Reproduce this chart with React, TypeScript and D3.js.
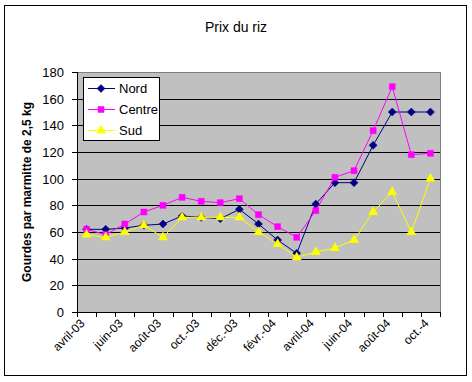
import React from "react";
import * as d3 from "d3";

const months = [
  "avril-03", "mai-03", "juin-03", "juil.-03", "août-03", "sept.-03", "oct.-03", "nov.-03",
  "déc.-03", "janv.-04", "févr.-04", "mars-04", "avril-04", "mai-04", "juin-04", "juil.-04",
  "août-04", "sept.-04", "oct.-4",
];
const nord = [62, 62, 63, 65, 66, 72, 71, 70, 77, 66, 54, 44, 81, 97, 97, 125, 150, 150, 150];
const centre = [62, 58, 66, 75, 80, 86, 83, 82, 85, 73, 64, 56, 76, 101, 106, 136, 169, 118, 119];
const sud = [58, 56, 60, 65, 56, 71, 71, 71, 71, 60, 51, 41, 45, 48, 54, 75, 90, 60, 100];
const yTicks = [0, 20, 40, 60, 80, 100, 120, 140, 160, 180];
const seriesNames = ["Nord", "Centre", "Sud"];
const seriesColors = ["#000080", "#FF00FF", "#FFFF00"];

const diamondType = {
  draw(ctx: any, size: number) {
    const r = Math.sqrt(size / 2);
    ctx.moveTo(0, -r);
    ctx.lineTo(r, 0);
    ctx.lineTo(0, r);
    ctx.lineTo(-r, 0);
    ctx.closePath();
  },
};
const seriesShapes: any[] = [diamondType, d3.symbolSquare, d3.symbolTriangle];
const seriesSizes = [32, 36, 36];

export default function App() {
  const W = 472, H = 382;
  const L = 77, R = 440, T = 72, B = 312;
  const band = d3.scaleBand<string>().domain(months).range([L, R]).padding(0);
  const xc = (i: number) => (band(months[i]) as number) + band.bandwidth() / 2;
  const y = d3.scaleLinear().domain([0, 180]).range([B, T]);
  const line = d3.line<number>().x((_, i) => xc(i)).y((v) => y(v));
  const data = [nord, centre, sud];
  const font = "Arial, 'Liberation Sans', sans-serif";
  const sym = (k: number) => d3.symbol().type(seriesShapes[k]).size(seriesSizes[k])() as string;

  return (
    <svg width={W} height={H} style={{ position: "absolute", left: 0, top: 0, background: "#fff" }} fontFamily={font}>
      <rect x={4.5} y={5.5} width={462} height={370} fill="#fff" stroke="#000" />
      <text x={236} y={32} textAnchor="middle" fontSize={14}>Prix du riz</text>
      <rect x={L} y={T} width={R - L} height={B - T} fill="#C0C0C0" />
      {yTicks.filter((t) => t > 0 && t < 180).map((t) => (
        <line key={t} x1={L} x2={R} y1={Math.round(y(t)) + 0.5} y2={Math.round(y(t)) + 0.5} stroke="#000" />
      ))}
      <line x1={L} x2={R + 0.5} y1={T + 0.5} y2={T + 0.5} stroke="#808080" />
      <line x1={R + 0.5} x2={R + 0.5} y1={T} y2={B} stroke="#808080" />
      <line x1={L + 0.5} x2={L + 0.5} y1={T} y2={B} stroke="#000" />
      <line x1={L} x2={R + 1} y1={B + 0.5} y2={B + 0.5} stroke="#000" />
      {yTicks.map((t) => (
        <g key={t}>
          <line x1={L - 5} x2={L} y1={Math.round(y(t)) + 0.5} y2={Math.round(y(t)) + 0.5} stroke="#000" />
          <text x={64} y={y(t) + 5} textAnchor="end" fontSize={13}>{t}</text>
        </g>
      ))}
      {months.map((m) => (
        <line key={m} x1={Math.round(band(m) as number) + 0.5} x2={Math.round(band(m) as number) + 0.5} y1={B} y2={B + 5} stroke="#000" />
      ))}
      <line x1={R + 0.5} x2={R + 0.5} y1={B} y2={B + 5} stroke="#000" />
      {months.map((m, i) =>
        i % 2 === 0 ? (
          <text key={m} transform={`translate(${xc(i) - 1},${324}) rotate(-45)`} textAnchor="end" fontSize={12}>{m}</text>
        ) : null
      )}
      <text transform={`translate(31,${(T + B) / 2}) rotate(-90)`} textAnchor="middle" fontSize={12} fontWeight="bold">
        Gourdes par marmitte de 2,5 kg
      </text>
      {data.map((d, k) => (
        <g key={k}>
          <path d={line(d) as string} fill="none" stroke={seriesColors[k]} strokeWidth={1} />
          {d.map((v, i) => (
            <path key={i} d={sym(k)} transform={`translate(${xc(i)},${y(v)})`} fill={seriesColors[k]} stroke={seriesColors[k]} strokeWidth={0.5} />
          ))}
        </g>
      ))}
      <rect x={83.5} y={77.5} width={76} height={63} fill="#fff" stroke="#000" />
      {seriesNames.map((n, k) => {
        const ly = 88 + k * 21;
        return (
          <g key={n}>
            <line x1={88} x2={115} y1={ly + 0.5} y2={ly + 0.5} stroke={seriesColors[k]} />
            <path d={sym(k)} transform={`translate(101,${ly + 0.5})`} fill={seriesColors[k]} stroke={seriesColors[k]} strokeWidth={0.5} />
            <text x={119} y={ly + 5} fontSize={13}>{n}</text>
          </g>
        );
      })}
    </svg>
  );
}
